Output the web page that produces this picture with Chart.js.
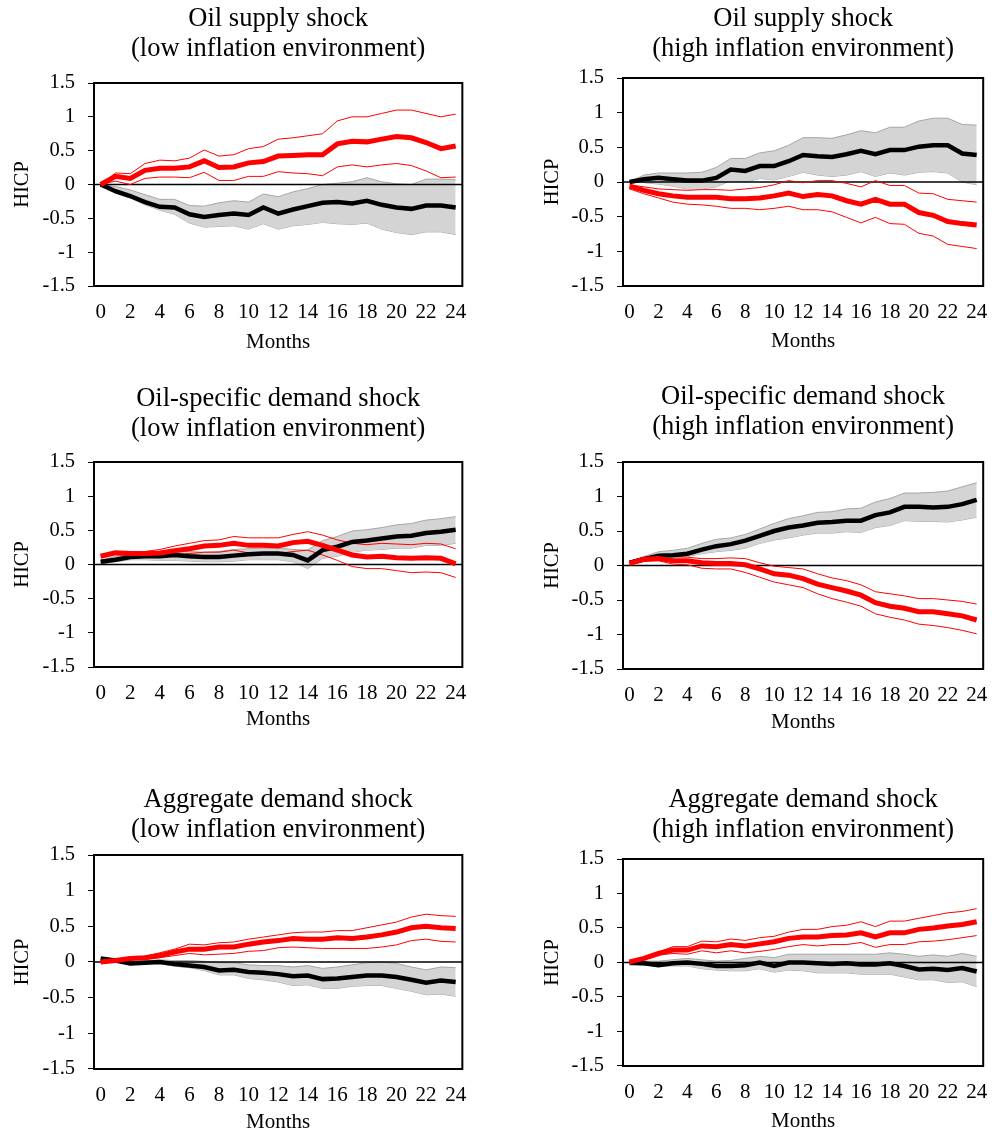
<!DOCTYPE html>
<html>
<head>
<meta charset="utf-8">
<script src="https://cdn.jsdelivr.net/npm/chart.js@4"></script>
<style>
  body { margin: 0; background: #fff; overflow: hidden; }
  canvas { position: absolute; }
</style>
</head>
<body>
<canvas id="c1"></canvas>
<canvas id="c2"></canvas>
<canvas id="c3"></canvas>
<canvas id="c4"></canvas>
<canvas id="c5"></canvas>
<canvas id="c6"></canvas>
<script>
// x axis
const months = [0,1,2,3,4,5,6,7,8,9,10,11,12,13,14,15,16,17,18,19,20,21,22,23,24];
const monthTicks = [0,2,4,6,8,10,12,14,16,18,20,22,24];
const yTicks = [-1.5, -1, -0.5, 0, 0.5, 1, 1.5];

// Oil supply shock, low inflation
const supplyLowBlack   = [0,-0.1,-0.17,-0.26,-0.33,-0.34,-0.44,-0.48,-0.45,-0.43,-0.45,-0.34,-0.43,-0.37,-0.32,-0.27,-0.26,-0.28,-0.24,-0.3,-0.34,-0.36,-0.31,-0.31,-0.34];
const supplyLowBlackUp = [0,-0.03,-0.08,-0.15,-0.22,-0.22,-0.31,-0.32,-0.27,-0.24,-0.26,-0.14,-0.18,-0.11,-0.06,0,0.02,0.04,0.1,0.04,0.01,0,0.08,0.08,0.07];
const supplyLowBlackLo = [0,-0.13,-0.2,-0.3,-0.38,-0.44,-0.57,-0.63,-0.62,-0.61,-0.66,-0.58,-0.66,-0.61,-0.59,-0.56,-0.58,-0.59,-0.57,-0.66,-0.71,-0.74,-0.7,-0.7,-0.74];
const supplyLowRed     = [0,0.12,0.09,0.21,0.24,0.24,0.26,0.35,0.25,0.26,0.32,0.34,0.42,0.43,0.44,0.44,0.6,0.64,0.63,0.67,0.71,0.69,0.62,0.53,0.57];
const supplyLowRedUp   = [0,0.17,0.16,0.31,0.36,0.35,0.39,0.51,0.42,0.44,0.53,0.56,0.67,0.69,0.72,0.75,0.94,1.0,1.0,1.05,1.1,1.1,1.05,1.0,1.04];
const supplyLowRedLo   = [0,0.05,0,0.09,0.11,0.11,0.1,0.18,0.06,0.06,0.12,0.12,0.19,0.17,0.16,0.13,0.26,0.29,0.26,0.29,0.31,0.28,0.2,0.1,0.11];

// Oil supply shock, high inflation
const supplyHighBlack   = [0,0.04,0.06,0.04,0.02,0.02,0.06,0.18,0.16,0.23,0.23,0.3,0.39,0.37,0.36,0.4,0.45,0.4,0.46,0.46,0.51,0.53,0.53,0.41,0.39];
const supplyHighBlackUp = [0,0.1,0.13,0.13,0.13,0.14,0.21,0.34,0.34,0.42,0.45,0.53,0.64,0.64,0.63,0.68,0.74,0.71,0.79,0.79,0.88,0.92,0.92,0.83,0.82];
const supplyHighBlackLo = [0,-0.01,-0.03,-0.06,-0.1,-0.1,-0.07,0.02,0,0.05,0.03,0.08,0.14,0.1,0.08,0.1,0.15,0.08,0.13,0.1,0.14,0.15,0.13,0,-0.04];
const supplyHighRed     = [-0.06,-0.12,-0.17,-0.2,-0.22,-0.22,-0.22,-0.24,-0.24,-0.23,-0.2,-0.16,-0.21,-0.18,-0.2,-0.27,-0.32,-0.25,-0.32,-0.32,-0.44,-0.48,-0.57,-0.6,-0.62];
const supplyHighRedUp   = [-0.04,-0.07,-0.1,-0.11,-0.12,-0.11,-0.11,-0.12,-0.1,-0.08,-0.04,0.02,-0.01,0.02,0.02,-0.02,-0.07,0.02,-0.05,-0.05,-0.16,-0.17,-0.25,-0.27,-0.29];
const supplyHighRedLo   = [-0.1,-0.17,-0.23,-0.29,-0.32,-0.33,-0.35,-0.38,-0.38,-0.4,-0.38,-0.35,-0.4,-0.4,-0.43,-0.51,-0.59,-0.51,-0.6,-0.61,-0.74,-0.78,-0.9,-0.93,-0.96];

// Oil-specific demand shock, low inflation
const oilDemLowBlack   = [0.04,0.07,0.11,0.12,0.12,0.14,0.12,0.11,0.11,0.13,0.15,0.16,0.16,0.14,0.06,0.21,0.26,0.33,0.35,0.38,0.41,0.42,0.46,0.48,0.51];
const oilDemLowBlackUp = [0.06,0.12,0.15,0.17,0.18,0.19,0.19,0.18,0.19,0.22,0.23,0.24,0.24,0.22,0.21,0.35,0.41,0.49,0.51,0.54,0.58,0.6,0.65,0.67,0.7];
const oilDemLowBlackLo = [0.01,0.04,0.07,0.07,0.06,0.06,0.05,0.04,0.04,0.05,0.07,0.07,0.07,0.04,-0.06,0.09,0.12,0.18,0.21,0.22,0.24,0.24,0.28,0.28,0.31];
const oilDemLowRed     = [0.12,0.17,0.16,0.16,0.17,0.2,0.23,0.27,0.28,0.31,0.28,0.28,0.27,0.32,0.34,0.28,0.21,0.14,0.11,0.12,0.1,0.09,0.1,0.09,0.01];
const oilDemLowRedUp   = [0.14,0.18,0.18,0.19,0.22,0.27,0.31,0.35,0.36,0.41,0.39,0.39,0.39,0.44,0.48,0.43,0.36,0.31,0.29,0.31,0.3,0.29,0.31,0.3,0.23];
const oilDemLowRedLo   = [0.11,0.16,0.13,0.11,0.11,0.14,0.16,0.18,0.18,0.21,0.17,0.16,0.16,0.19,0.21,0.14,0.06,-0.03,-0.06,-0.06,-0.09,-0.12,-0.11,-0.12,-0.19];

// Oil-specific demand shock, high inflation
const oilDemHighBlack   = [0.04,0.09,0.14,0.15,0.17,0.23,0.28,0.31,0.36,0.43,0.5,0.55,0.58,0.62,0.63,0.65,0.65,0.73,0.77,0.85,0.85,0.84,0.85,0.89,0.95];
const oilDemHighBlackUp = [0.06,0.13,0.2,0.22,0.25,0.32,0.38,0.4,0.45,0.53,0.61,0.68,0.72,0.77,0.78,0.82,0.83,0.92,0.97,1.05,1.05,1.06,1.08,1.14,1.2];
const oilDemHighBlackLo = [0.02,0.06,0.09,0.11,0.13,0.17,0.2,0.22,0.25,0.32,0.37,0.4,0.44,0.47,0.47,0.49,0.48,0.55,0.58,0.65,0.64,0.64,0.63,0.66,0.7];
const oilDemHighRed     = [0.03,0.09,0.1,0.07,0.07,0.04,0.03,0.03,0.01,-0.05,-0.12,-0.14,-0.19,-0.27,-0.32,-0.37,-0.43,-0.54,-0.59,-0.62,-0.67,-0.67,-0.7,-0.73,-0.79];
const oilDemHighRedUp   = [0.06,0.12,0.14,0.13,0.12,0.1,0.1,0.11,0.1,0.04,-0.01,-0.03,-0.05,-0.12,-0.18,-0.22,-0.28,-0.38,-0.41,-0.44,-0.48,-0.48,-0.5,-0.52,-0.56];
const oilDemHighRedLo   = [0.01,0.06,0.07,0.02,0.01,-0.04,-0.05,-0.05,-0.1,-0.17,-0.24,-0.28,-0.32,-0.41,-0.48,-0.53,-0.59,-0.7,-0.75,-0.79,-0.85,-0.87,-0.9,-0.94,-0.99];

// Aggregate demand shock, low inflation
const aggLowBlack   = [0.05,0.02,-0.02,-0.01,0,-0.03,-0.05,-0.07,-0.12,-0.11,-0.14,-0.15,-0.17,-0.2,-0.19,-0.24,-0.23,-0.21,-0.19,-0.19,-0.21,-0.25,-0.29,-0.26,-0.28];
const aggLowBlackUp = [0.06,0.03,0.01,0.02,0.03,0.02,0.02,0.01,-0.01,-0.01,-0.04,-0.05,-0.05,-0.07,-0.05,-0.09,-0.07,-0.04,-0.01,0,-0.02,-0.07,-0.11,-0.07,-0.08];
const aggLowBlackLo = [0.03,0.01,-0.04,-0.02,-0.02,-0.06,-0.08,-0.12,-0.18,-0.18,-0.23,-0.25,-0.28,-0.33,-0.32,-0.37,-0.37,-0.34,-0.33,-0.33,-0.37,-0.41,-0.46,-0.45,-0.48];
const aggLowRed     = [0,0.02,0.05,0.06,0.09,0.14,0.18,0.18,0.21,0.21,0.25,0.28,0.3,0.33,0.32,0.32,0.34,0.33,0.35,0.38,0.42,0.48,0.5,0.48,0.47];
const aggLowRedUp   = [0,0.03,0.07,0.08,0.13,0.18,0.25,0.24,0.27,0.28,0.32,0.35,0.38,0.41,0.42,0.42,0.44,0.44,0.48,0.52,0.56,0.63,0.67,0.65,0.64];
const aggLowRedLo   = [0,0.02,0.03,0.04,0.06,0.09,0.12,0.1,0.11,0.12,0.15,0.16,0.2,0.21,0.2,0.19,0.19,0.19,0.19,0.21,0.24,0.3,0.32,0.29,0.28];

// Aggregate demand shock, high inflation
const aggHighBlack   = [0,-0.01,-0.04,-0.01,0,-0.02,-0.05,-0.05,-0.04,0,-0.05,0,0,-0.01,-0.02,-0.01,-0.03,-0.03,-0.01,-0.05,-0.1,-0.09,-0.11,-0.08,-0.13];
const aggHighBlackUp = [0.02,0.02,0.02,0.04,0.06,0.04,0.02,0.03,0.06,0.09,0.07,0.12,0.12,0.12,0.12,0.12,0.12,0.12,0.14,0.12,0.09,0.11,0.09,0.13,0.09];
const aggHighBlackLo = [-0.04,-0.04,-0.05,-0.05,-0.05,-0.09,-0.11,-0.12,-0.12,-0.09,-0.14,-0.11,-0.12,-0.15,-0.15,-0.15,-0.17,-0.17,-0.17,-0.21,-0.25,-0.25,-0.29,-0.28,-0.35];
const aggHighRed     = [0.01,0.06,0.13,0.18,0.18,0.24,0.23,0.26,0.24,0.27,0.3,0.35,0.37,0.37,0.39,0.4,0.43,0.37,0.43,0.43,0.48,0.5,0.53,0.55,0.59];
const aggHighRedUp   = [0.01,0.07,0.15,0.23,0.23,0.31,0.3,0.34,0.32,0.36,0.38,0.44,0.48,0.48,0.52,0.54,0.59,0.52,0.6,0.6,0.64,0.68,0.72,0.74,0.78];
const aggHighRedLo   = [0,0.04,0.11,0.13,0.12,0.17,0.14,0.17,0.14,0.16,0.19,0.23,0.26,0.24,0.26,0.26,0.29,0.22,0.26,0.26,0.3,0.31,0.33,0.36,0.39];

const serif = "'Liberation Serif', 'Times New Roman', serif";

// plot box + zero line drawn by hand on top of the band
const framePlugin = {
  id: 'frame',
  afterDatasetDraw(chart, args) {
    if (args.index !== 4) return;
    const ctx = chart.ctx, a = chart.chartArea;
    const y0 = chart.scales.y.getPixelForValue(0);
    ctx.save();
    ctx.strokeStyle = '#000';
    ctx.lineWidth = 1.5;
    ctx.beginPath();
    ctx.moveTo(a.left, y0);
    ctx.lineTo(a.right, y0);
    ctx.stroke();
    ctx.restore();
  },
  afterDraw(chart) {
    const ctx = chart.ctx, a = chart.chartArea;
    ctx.save();
    ctx.strokeStyle = '#000';
    ctx.lineWidth = 2;
    ctx.strokeRect(a.left, a.top, a.right - a.left, a.bottom - a.top);
    ctx.restore();
  }
};

function makePanel(id, box, title, s) {
  const canvas = document.getElementById(id);
  const top = box.line1 - 18;
  const xAxisH = box.monthsGap + 13.6;
  canvas.width = box.width;
  canvas.height = Math.ceil(box.plotBottom + xAxisH - top);
  const bottomPad = canvas.height - (box.plotBottom + xAxisH - top);
  canvas.style.left = box.left + 'px';
  canvas.style.top = top + 'px';

  new Chart(canvas, {
    type: 'line',
    data: {
      labels: months,
      datasets: [
        { data: s[3], borderColor: '#ff0000', borderWidth: 5 },
        { data: s[0], borderColor: '#000000', borderWidth: 4.5 },
        { data: s[4], borderColor: '#ff0000', borderWidth: 1 },
        { data: s[5], borderColor: '#ff0000', borderWidth: 1 },
        { data: s[1], borderColor: '#a6a6a6', borderWidth: 1, fill: 5, backgroundColor: '#d4d4d4' },
        { data: s[2], borderColor: '#a6a6a6', borderWidth: 1 }
      ]
    },
    options: {
      responsive: false,
      animation: false,
      events: [],
      elements: { point: { radius: 0 }, line: { tension: 0 } },
      layout: { padding: { left: 0, right: box.width - (box.plotRight - box.left), top: 0, bottom: bottomPad } },
      plugins: {
        legend: { display: false },
        tooltip: { enabled: false },
        title: {
          display: true,
          text: title,
          fullSize: false,
          color: '#000',
          font: { family: serif, size: 26.5, weight: 'normal', lineHeight: 1.13 },
          padding: { top: 3, bottom: box.plotTop - top - 3 - 2 * 26.5 * 1.13 }
        }
      },
      scales: {
        x: {
          type: 'linear',
          min: -0.45,
          max: 24.45,
          afterBuildTicks: sc => { sc.ticks = monthTicks.map(v => ({ value: v })); },
          afterFit: sc => { sc.height = xAxisH; },
          grid: { display: false, drawTicks: false },
          border: { display: false },
          ticks: { color: '#000', font: { family: serif, size: 21 }, padding: 13.5, maxRotation: 0, callback: v => String(v) },
          title: { display: true, text: 'Months', color: '#000', font: { family: serif, size: 21 }, padding: { top: 0, bottom: 1 } }
        },
        y: {
          min: -1.5,
          max: 1.5,
          afterBuildTicks: sc => { sc.ticks = yTicks.map(v => ({ value: v })); },
          afterFit: sc => { sc.width = box.plotLeft - box.left; },
          grid: { drawOnChartArea: false, drawTicks: true, tickLength: 6, color: '#000', lineWidth: 1 },
          border: { display: false },
          ticks: { color: '#000', font: { family: serif, size: 20.5 }, padding: 13, callback: v => String(v) },
          title: { display: true, text: 'HICP', color: '#000', font: { family: serif, size: 20.5 }, padding: { top: box.hicpPad, bottom: 0 } }
        }
      }
    },
    plugins: [framePlugin]
  });
}

makePanel('c1', { left: 0, width: 480, line1: 19, plotTop: 83, plotBottom: 286, monthsGap: 56, plotLeft: 94, plotRight: 467, hicpPad: 10 },
  ['Oil supply shock', '(low inflation environment)'],
  [supplyLowBlack, supplyLowBlackUp, supplyLowBlackLo, supplyLowRed, supplyLowRedUp, supplyLowRedLo]);
makePanel('c2', { left: 520, width: 481, line1: 19, plotTop: 78, plotBottom: 286, monthsGap: 55, plotLeft: 623, plotRight: 995, hicpPad: 20 },
  ['Oil supply shock', '(high inflation environment)'],
  [supplyHighBlack, supplyHighBlackUp, supplyHighBlackLo, supplyHighRed, supplyHighRedUp, supplyHighRedLo]);
makePanel('c3', { left: 0, width: 480, line1: 399, plotTop: 462, plotBottom: 667, monthsGap: 52, plotLeft: 94, plotRight: 467, hicpPad: 10 },
  ['Oil-specific demand shock', '(low inflation environment)'],
  [oilDemLowBlack, oilDemLowBlackUp, oilDemLowBlackLo, oilDemLowRed, oilDemLowRedUp, oilDemLowRedLo]);
makePanel('c4', { left: 520, width: 481, line1: 397, plotTop: 462, plotBottom: 669, monthsGap: 53, plotLeft: 623, plotRight: 995, hicpPad: 20 },
  ['Oil-specific demand shock', '(high inflation environment)'],
  [oilDemHighBlack, oilDemHighBlackUp, oilDemHighBlackLo, oilDemHighRed, oilDemHighRedUp, oilDemHighRedLo]);
makePanel('c5', { left: 0, width: 480, line1: 800, plotTop: 855, plotBottom: 1069, monthsGap: 53, plotLeft: 94, plotRight: 467, hicpPad: 10 },
  ['Aggregate demand shock', '(low inflation environment)'],
  [aggLowBlack, aggLowBlackUp, aggLowBlackLo, aggLowRed, aggLowRedUp, aggLowRedLo]);
makePanel('c6', { left: 520, width: 481, line1: 800, plotTop: 859, plotBottom: 1066, monthsGap: 55, plotLeft: 623, plotRight: 995, hicpPad: 20 },
  ['Aggregate demand shock', '(high inflation environment)'],
  [aggHighBlack, aggHighBlackUp, aggHighBlackLo, aggHighRed, aggHighRedUp, aggHighRedLo]);
</script>
</body>
</html>
